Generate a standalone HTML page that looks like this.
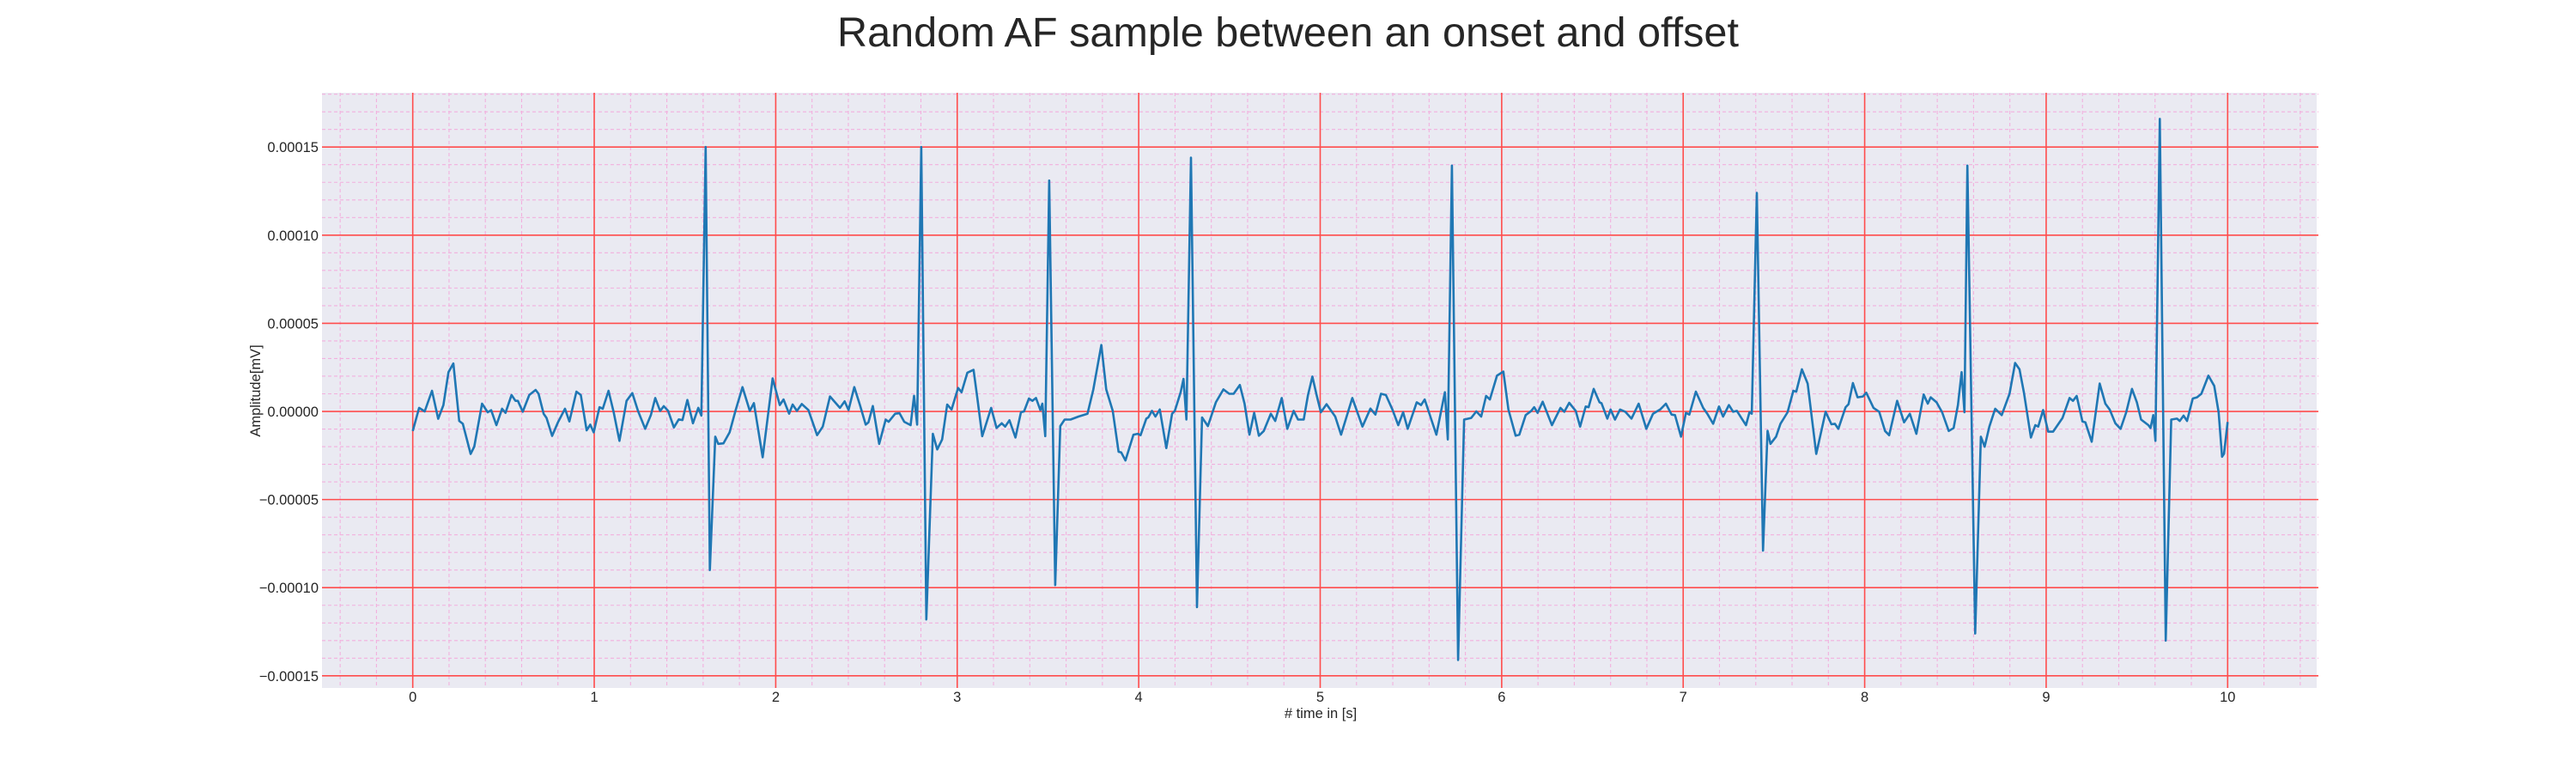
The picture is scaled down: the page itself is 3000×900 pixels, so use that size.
<!DOCTYPE html>
<html><head><meta charset="utf-8"><style>
html,body{margin:0;padding:0;background:#fff;}
svg{display:block;font-family:"Liberation Sans",Arial,sans-serif;}
</style></head><body>
<svg id="chart" width="3000" height="900" viewBox="0 0 3000 900" xmlns="http://www.w3.org/2000/svg">
<text x="1500" y="54" text-anchor="middle" font-size="48.6" fill="#262626">Random AF sample between an onset and offset</text>
<rect x="375" y="108" width="2323" height="693" fill="#eaeaf2"/>
<g id="grid"></g>
<g id="ticks"></g>
<path id="sig" fill="none" stroke="#1f77b4" stroke-width="2.6" stroke-linejoin="round"/>
<text x="1538" y="836" text-anchor="middle" font-size="16.5" fill="#262626"># time in [s]</text>
<text transform="translate(303,455) rotate(-90)" text-anchor="middle" font-size="16.5" fill="#262626">Amplitude[mV]</text>
</svg>
<script>
const xTicks=[0,1,2,3,4,5,6,7,8,9,10];
const yTicks=[-0.00015,-0.0001,-0.00005,0,0.00005,0.0001,0.00015];
const yTickLabels=["\u22120.00015","\u22120.00010","\u22120.00005","0.00000","0.00005","0.00010","0.00015"];
// time in seconds
const times=[0.000,0.035,0.066,0.106,0.140,0.169,0.197,0.224,0.256,0.276,0.319,0.339,0.382,0.413,0.432,0.461,0.492,0.511,0.544,0.566,0.579,0.606,0.642,0.677,0.693,0.721,0.737,0.768,0.800,0.839,0.863,0.902,0.926,0.958,0.978,0.997,1.029,1.047,1.079,1.107,1.139,1.178,1.210,1.241,1.281,1.312,1.336,1.363,1.383,1.407,1.439,1.466,1.486,1.513,1.544,1.573,1.590,1.614,1.637,1.667,1.683,1.712,1.746,1.778,1.817,1.857,1.880,1.928,1.983,2.022,
2.043,2.074,2.093,2.117,2.144,2.180,2.228,2.259,2.299,2.354,2.380,2.401,2.433,2.464,2.496,2.511,2.535,2.570,2.606,2.622,2.658,2.682,2.708,2.743,2.762,2.779,2.802,2.830,2.866,2.890,2.917,2.945,2.969,3.005,3.024,3.056,3.090,3.111,3.138,3.187,3.217,3.245,3.264,3.288,3.321,3.351,3.368,3.395,3.414,3.434,3.458,3.469,3.485,3.507,3.540,3.568,3.592,3.624,3.668,3.718,3.750,3.794,3.821,3.857,3.889,3.904,3.927,3.971,3.994,4.010,
4.042,4.053,4.073,4.092,4.116,4.152,4.184,4.199,4.231,4.247,4.263,4.288,4.321,4.349,4.381,4.425,4.467,4.499,4.523,4.557,4.583,4.610,4.636,4.662,4.689,4.728,4.752,4.788,4.819,4.854,4.878,4.909,4.933,4.957,4.980,5.004,5.035,5.083,5.115,5.177,5.233,5.277,5.304,5.335,5.362,5.398,5.430,5.457,5.482,5.532,5.556,5.576,5.640,5.687,5.703,5.726,5.760,5.793,5.832,5.860,5.887,5.914,5.935,5.974,6.009,
6.037,6.077,6.097,6.132,6.163,6.179,6.198,6.226,6.277,6.324,6.345,6.372,6.408,6.432,6.463,6.479,6.507,6.539,6.550,6.582,6.600,6.624,6.652,6.681,6.715,6.755,6.797,6.834,6.873,6.905,6.936,6.955,6.988,7.015,7.034,7.070,7.110,7.133,7.165,7.197,7.220,7.252,7.275,7.296,7.323,7.346,7.365,7.378,7.406,7.440,7.465,7.481,7.512,7.536,7.575,7.607,7.623,7.654,7.686,7.733,7.785,7.817,7.836,7.855,7.895,7.911,7.935,7.961,7.990,
8.009,8.049,8.080,8.112,8.135,8.179,8.217,8.249,8.285,8.325,8.348,8.364,8.396,8.427,8.463,8.490,8.514,8.534,8.550,8.566,8.609,8.640,8.661,8.687,8.719,8.755,8.798,8.829,8.853,8.877,8.916,8.940,8.956,8.983,9.011,9.038,9.090,9.129,9.148,9.168,9.200,9.216,9.251,9.295,9.326,9.350,9.381,9.410,9.441,9.473,9.500,9.523,9.563,9.575,9.590,9.602,9.626,9.659,9.689,9.721,9.736,9.757,9.776,9.808,9.831,9.855,9.894,9.926,9.950,9.969,9.980,10.000];
// amplitude in units of 1e-5 mV
const amps=[-1.11,0.20,0.00,1.17,-0.42,0.36,2.23,2.72,-0.54,-0.70,-2.41,-2.0,0.44,-0.05,0.07,-0.78,0.15,-0.08,0.93,0.6,0.6,-0.02,0.93,1.22,1.0,-0.13,-0.37,-1.39,-0.62,0.15,-0.57,1.12,0.93,-1.07,-0.75,-1.19,0.24,0.15,1.17,-0.05,-1.67,0.6,1.04,0.03,-0.99,-0.21,0.76,0.03,0.3,0.03,-0.91,-0.45,-0.49,0.65,-0.67,0.2,-0.24,15.0,-9.0,-1.43,-1.84,-1.81,-1.19,0.03,1.38,0.03,0.47,-2.6,1.87,0.36,
0.68,-0.13,0.39,0.03,0.42,0.08,-1.35,-0.86,0.85,0.2,0.57,0.08,1.38,0.36,-0.75,-0.62,0.31,-1.84,-0.46,-0.59,-0.13,-0.1,-0.59,-0.78,0.89,-0.75,15.0,-11.8,-1.27,-2.16,-1.59,0.39,0.11,1.33,1.09,2.2,2.36,0.76,-1.4,0.2,-0.94,-0.67,-0.86,-0.5,-1.48,-0.05,0,0.73,0.6,0.76,0.08,0.44,-1.4,13.1,-9.85,-0.83,-0.46,-0.46,-0.29,-0.13,1.25,3.77,1.25,0.03,-2.29,-2.33,-2.78,-1.32,-1.27,-1.35,
-0.41,-0.34,0.03,-0.29,0.11,-2.08,-0.13,0.03,1.09,1.85,-0.46,14.4,-11.1,-0.34,-0.83,0.52,1.25,1.0,1.0,1.5,0.44,-1.32,-0.08,-1.38,-1.11,-0.13,-0.54,0.76,-0.99,0.03,-0.46,-0.46,0.93,1.98,0.93,-0.05,0.41,-0.29,-1.32,0.76,-0.86,0.16,-0.18,1.0,0.93,0.11,-0.78,-0.05,-0.99,0.52,0.36,0.68,-1.32,1.09,-1.59,13.95,-14.1,-0.46,-0.37,0,-0.29,0.88,0.68,2.03,2.26,
0.11,-1.38,-1.32,-0.21,0.03,0.24,-0.08,0.55,-0.78,0.2,-0.02,0.49,0.03,-0.86,0.28,0.24,1.28,0.52,0.47,-0.41,0.11,-0.46,0.11,-0.02,-0.41,0.44,-0.99,-0.13,0.11,0.44,-0.18,-0.21,-1.43,-0.08,-0.18,1.12,0.2,-0.13,-0.7,0.28,-0.29,0.36,-0.02,0.03,-0.41,-0.78,-0.05,-0.13,12.4,-7.9,-1.1,-1.84,-1.43,-0.7,-0.05,1.17,1.12,2.39,1.58,-2.41,-0.02,-0.73,-0.7,-0.99,0.24,0.41,1.61,0.8,0.85,
1.06,0.2,-0.02,-1.11,-1.35,0.6,-0.62,-0.13,-1.27,0.96,0.44,0.8,0.52,-0.05,-1.11,-0.94,0.36,2.23,-0.05,13.95,-12.6,-1.43,-2.0,-0.86,0.15,-0.21,1.0,2.75,2.39,1.09,-1.48,-0.78,-0.86,0.08,-1.15,-1.15,-0.37,0.76,0.6,0.88,-0.57,-0.62,-1.72,1.58,0.44,0.11,-0.67,-0.99,-0.05,1.28,0.52,-0.46,-0.78,-0.94,-0.21,-1.67,16.6,-13.0,-0.46,-0.41,-0.54,-0.24,-0.54,0.73,0.8,1.0,2.03,1.45,-0.05,-2.57,-2.4,-0.6];
const NS="http://www.w3.org/2000/svg";
const L=375,R=2700,T=108,B=801,X0=-0.5,X1=10.5,Y0=-0.0001569,Y1=0.0001808;
function sx(t){return L+(t-X0)/(X1-X0)*(R-L);}
function sy(v){return B-(v-Y0)/(Y1-Y0)*(B-T);}
const grid=document.getElementById('grid'),tk=document.getElementById('ticks');
function line(x1,y1,x2,y2,c,w,d,name){const l=document.createElementNS(NS,'line');
l.setAttribute('x1',x1);l.setAttribute('y1',y1);l.setAttribute('x2',x2);l.setAttribute('y2',y2);
l.setAttribute('stroke',c);l.setAttribute('stroke-width',w);if(d)l.setAttribute('stroke-dasharray',d);


grid.appendChild(l);}
for(let i=-2;i<=52;i++){const t=i*0.2;if(t<X0||t>X1)continue;if(i%5===0)continue;const x=sx(t);line(x,T,x,B,'#f2b0de',1.1,'4,3','minor-grid-x');}
for(let i=-15;i<=18;i++){const v=i*0.00001;if(v<Y0||v>Y1)continue;if(i%5===0)continue;const y=sy(v);line(L,y,R,y,'#f2b0de',1.1,'4,3','minor-grid-y');}
xTicks.forEach(t=>{const x=sx(t);line(x,T,x,B,'#ff4c4c',1.6,null,'major-grid-x');
const tx=document.createElementNS(NS,'text');tx.setAttribute('x',x);tx.setAttribute('y',817);tx.setAttribute('text-anchor','middle');tx.setAttribute('font-size','16.5');tx.setAttribute('fill','#262626');tx.textContent=t;


tk.appendChild(tx);});
yTicks.forEach((v,i)=>{const y=sy(v);line(L,y,R,y,'#ff4c4c',1.6,null,'major-grid-y');
const tx=document.createElementNS(NS,'text');tx.setAttribute('x',371);tx.setAttribute('y',y+6);tx.setAttribute('text-anchor','end');tx.setAttribute('font-size','16.5');tx.setAttribute('fill','#262626');tx.textContent=yTickLabels[i];


tk.appendChild(tx);});
let d='';times.forEach((t,i)=>{d+=(i?'L':'M')+sx(t).toFixed(1)+','+sy(amps[i]*1e-5).toFixed(1);});
document.getElementById('sig').setAttribute('d',d);
</script>
</body></html>
